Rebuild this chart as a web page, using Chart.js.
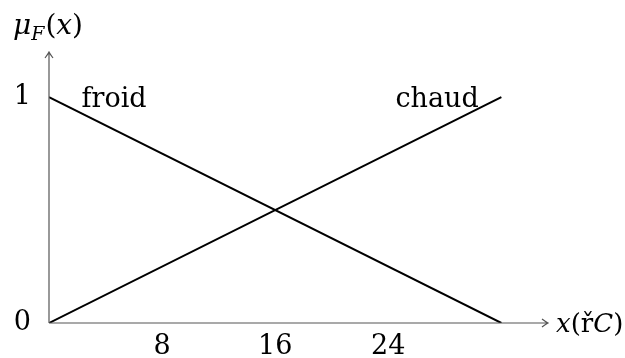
<!DOCTYPE html>
<html>
<head>
<meta charset="utf-8">
<script src="https://cdn.jsdelivr.net/npm/chart.js@4"></script>
<style>
  html, body { margin: 0; padding: 0; background: #fff; overflow: hidden; }
  canvas { display: block; }
</style>
</head>
<body>
<canvas id="myChart" width="625" height="358"></canvas>
<script>
// values
const xValues = [0, 32];
const froid = [1, 0];
const chaud = [0, 1];
const xTicks = [8, 16, 24];
const yTicks = [0, 1];
const seriesLabels = ['froid', 'chaud'];
const yTitle = 'μ';

const FONT = 'DejaVu Serif';

// axes with arrows, series names and axis titles
const axesPlugin = {
  id: 'axesArrows',
  afterDatasetsDraw(chart) {
    const { ctx, chartArea: { top, bottom, left, right }, scales: { x, y } } = chart;
    ctx.save();
    ctx.strokeStyle = '#555';
    ctx.lineWidth = 1.2;
    ctx.beginPath();
    ctx.moveTo(left, bottom);
    ctx.lineTo(right, bottom);
    ctx.moveTo(left, bottom);
    ctx.lineTo(left, top);
    // arrow heads
    ctx.moveTo(right - 6, bottom - 4);
    ctx.quadraticCurveTo(right - 2, bottom - 1, right, bottom);
    ctx.quadraticCurveTo(right - 2, bottom + 1, right - 6, bottom + 4);
    ctx.moveTo(left - 4, top + 6);
    ctx.quadraticCurveTo(left - 1, top + 2, left, top);
    ctx.quadraticCurveTo(left + 1, top + 2, left + 4, top + 6);
    ctx.stroke();

    ctx.fillStyle = '#000';
    ctx.font = '27px "' + FONT + '"';
    ctx.textBaseline = 'alphabetic';
    ctx.textAlign = 'left';
    ctx.fillText(seriesLabels[0], x.getPixelForValue(2.3), y.getPixelForValue(1) + 10);
    ctx.textAlign = 'right';
    ctx.fillText(seriesLabels[1], x.getPixelForValue(30.4), y.getPixelForValue(1) + 10);

    // x title x(řC)
    ctx.textAlign = 'left';
    const parts = [['x', true], ['(ř', false], ['C', true], [')', false]];
    let w = 556;
    parts.forEach(([t, it]) => {
      ctx.font = (it ? 'italic ' : '') + '26px "' + FONT + '"';
      ctx.fillText(t, w, bottom + 9);
      w += ctx.measureText(t).width;
    });

    // y title mu_F(x)
    ctx.font = 'italic 28px "' + FONT + '"';
    ctx.fillText(yTitle, 13, 34);
    let v = 13 + ctx.measureText(yTitle).width;
    ctx.font = 'italic 19px "' + FONT + '"';
    ctx.fillText('F', v, 40);
    v += ctx.measureText('F').width + 1;
    const tail = [['(', false], ['x', true], [')', false]];
    tail.forEach(([t, it]) => {
      ctx.font = (it ? 'italic ' : '') + '28px "' + FONT + '"';
      ctx.fillText(t, v, 34);
      v += ctx.measureText(t).width;
    });
    ctx.restore();
  },
};

const lineStyle = { borderColor: '#000', borderWidth: 2, pointRadius: 0, fill: false, tension: 0 };

const config = {
  type: 'line',
  data: {
    datasets: [
      { label: seriesLabels[0], data: xValues.map((v, i) => ({ x: v, y: froid[i] })), ...lineStyle },
      { label: seriesLabels[1], data: xValues.map((v, i) => ({ x: v, y: chaud[i] })), ...lineStyle },
    ],
  },
  options: {
    responsive: false,
    animation: false,
    layout: { padding: { top: 52, right: 77, left: 0, bottom: 0 } },
    plugins: { legend: { display: false }, tooltip: { enabled: false } },
    scales: {
      x: {
        type: 'linear',
        min: 0,
        max: 35.3,
        grid: { display: false, drawTicks: false },
        border: { display: false },
        afterBuildTicks: (scale) => { scale.ticks = xTicks.map((v) => ({ value: v })); },
        afterFit: (scale) => { scale.height = 35; },
        ticks: { color: '#000', font: { family: FONT, size: 27 }, padding: 8, maxRotation: 0, autoSkip: false },
      },
      y: {
        type: 'linear',
        min: 0,
        max: 1.2,
        grid: { display: false, drawTicks: false },
        border: { display: false },
        afterBuildTicks: (scale) => { scale.ticks = yTicks.map((v) => ({ value: v })); },
        afterFit: (scale) => { scale.width = 49; },
        ticks: { color: '#000', font: { family: FONT, size: 27 }, padding: 18 },
      },
    },
  },
  plugins: [axesPlugin],
};

new Chart(document.getElementById('myChart'), config);
</script>
</body>
</html>
